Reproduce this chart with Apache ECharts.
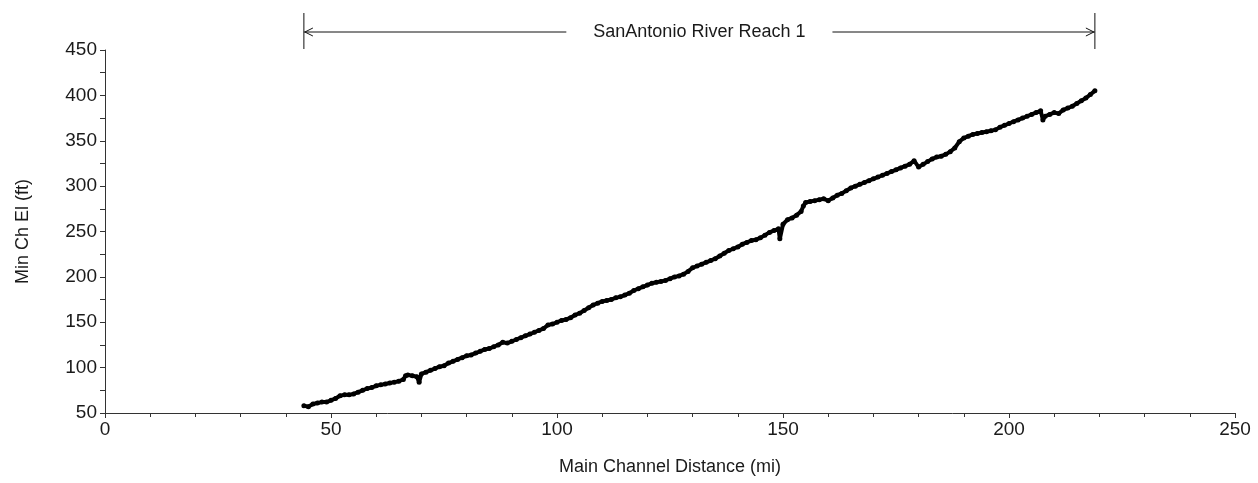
<!DOCTYPE html>
<html>
<head>
<meta charset="utf-8">
<script src="https://cdn.jsdelivr.net/npm/echarts@6/dist/echarts.min.js"></script>
<style>html,body{margin:0;padding:0;background:#fff}#c{width:1258px;height:483px}</style>
</head>
<body>
<div id="c"></div>
<script>
// Main channel distance (mi)
const distance = [44,45,46,47,48,49,50,51,52,53,54,55,56,57,58,59,60,61,62,63,64,65,66,66.5,67,68,69,69.5,70,71,72,73,74,75,76,77,78,79,80,81,82,83,84,85,86,87,88,89,90,91,92,93,94,95,96,97,98,99,100,101,102,103,104,105,106,107,108,109,110,111,112,113,114,115,116,117,118,119,120,121,122,123,124,125,126,127,128,129,130,131,132,133,134,135,136,137,138,139,140,141,142,143,144,145,146,147,148,149,149.3,150,151,152,153,154,154.5,155,156,157,158,159,160,161,162,163,164,165,166,167,168,169,170,171,172,173,174,175,176,177,178,179,180,181,182,183,184,185,186,187,188,189,190,191,192,193,194,195,196,197,198,199,200,201,202,203,204,205,206,207,207.5,208,209,210,211,212,213,214,215,216,217,218,219];
// Min channel elevation (ft)
const elevation = [58,57,60,61,62,62,64,66,69,70,70,71,73,75,77,78,80,81,82,83,84,85,87,91,92,91,90,84,93,95,97,99,101,102,105,107,109,111,113,114,116,118,120,121,123,125,128,127,129,131,133,135,137,139,141,143,147,148,150,152,153,155,158,160,163,166,169,171,173,174,175,177,178,180,182,185,187,189,191,193,194,195,196,198,200,201,203,206,210,212,214,216,218,220,223,226,229,231,233,236,238,240,241,243,246,249,251,253,242,258,263,265,268,272,278,282,283,284,285,286,284,287,290,292,295,298,300,302,304,306,308,310,312,314,316,318,320,322,324,328,321,324,327,330,332,333,335,338,342,349,353,355,357,358,359,360,361,362,365,367,369,371,373,375,377,379,381,383,373,377,379,381,380,384,386,388,391,394,397,401,405];
const xTicks = {min: 0, max: 250, interval: 50};
const yTicks = {min: 50, max: 450, interval: 50};
const reachName = 'SanAntonio River Reach 1';
const reachStart = 44;
const reachEnd = 219;

const points = distance.map((d, i) => [d, elevation[i]]);
const font = 'Liberation Sans, Arial, sans-serif';
const chart = echarts.init(document.getElementById('c'), null, {renderer: 'canvas'});
chart.setOption({
  animation: false,
  backgroundColor: '#fff',
  grid: {left: 105, right: 23, top: 50, bottom: 70},
  xAxis: {
    type: 'value', min: xTicks.min, max: xTicks.max, interval: xTicks.interval,
    name: 'Main Channel Distance (mi)', nameLocation: 'middle', nameGap: 45,
    nameTextStyle: {fontFamily: font, fontSize: 18, color: '#1a1a1a'},
    axisLine: {show: true, onZero: false, lineStyle: {color: '#333', width: 1}},
    axisTick: {show: true, length: 5, lineStyle: {color: '#333'}},
    minorTick: {show: true, splitNumber: 5, length: 4, lineStyle: {color: '#333'}},
    splitLine: {show: false},
    axisLabel: {fontFamily: font, fontSize: 19, color: '#1a1a1a', margin: 7}
  },
  yAxis: {
    type: 'value', min: yTicks.min, max: yTicks.max, interval: yTicks.interval,
    name: 'Min Ch El (ft)', nameLocation: 'middle', nameGap: 73, nameRotate: 90,
    nameTextStyle: {fontFamily: font, fontSize: 18, color: '#1a1a1a'},
    axisLine: {show: true, onZero: false, lineStyle: {color: '#333', width: 1}},
    axisTick: {show: true, length: 5, lineStyle: {color: '#333'}},
    minorTick: {show: true, splitNumber: 2, length: 5, lineStyle: {color: '#333'}},
    splitLine: {show: false},
    axisLabel: {fontFamily: font, fontSize: 19, color: '#1a1a1a', margin: 8}
  },
  series: [{
    type: 'line',
    data: points,
    showSymbol: true,
    symbol: 'circle',
    symbolSize: 5,
    itemStyle: {color: '#000'},
    lineStyle: {color: '#000', width: 4},
    z: 3
  }]
});

// Reach annotation above the plot
const x1 = chart.convertToPixel({xAxisIndex: 0}, reachStart);
const x2 = chart.convertToPixel({xAxisIndex: 0}, reachEnd);
const yA = 32, yT = 13, yB = 49;
const stroke = {stroke: '#111', lineWidth: 1};
chart.setOption({
  graphic: [
    {type: 'line', shape: {x1: x1, y1: yT, x2: x1, y2: yB}, style: stroke, silent: true},
    {type: 'line', shape: {x1: x2, y1: yT, x2: x2, y2: yB}, style: stroke, silent: true},
    {type: 'line', shape: {x1: x1, y1: yA, x2: x2, y2: yA}, style: stroke, silent: true},
    {type: 'polyline', shape: {points: [[x1 + 9, yA - 4], [x1 + 1, yA], [x1 + 9, yA + 4]]}, style: {stroke: '#111', lineWidth: 1, fill: null}, silent: true},
    {type: 'polyline', shape: {points: [[x2 - 9, yA - 4], [x2 - 1, yA], [x2 - 9, yA + 4]]}, style: {stroke: '#111', lineWidth: 1, fill: null}, silent: true},
    {type: 'text', x: (x1 + x2) / 2, y: yA, silent: true,
     style: {text: reachName, fontFamily: font, fontSize: 18, fill: '#1a1a1a', align: 'center', verticalAlign: 'middle',
             backgroundColor: '#fff', padding: [2, 27, 2, 27]}}
  ]
});
</script>
</body>
</html>
